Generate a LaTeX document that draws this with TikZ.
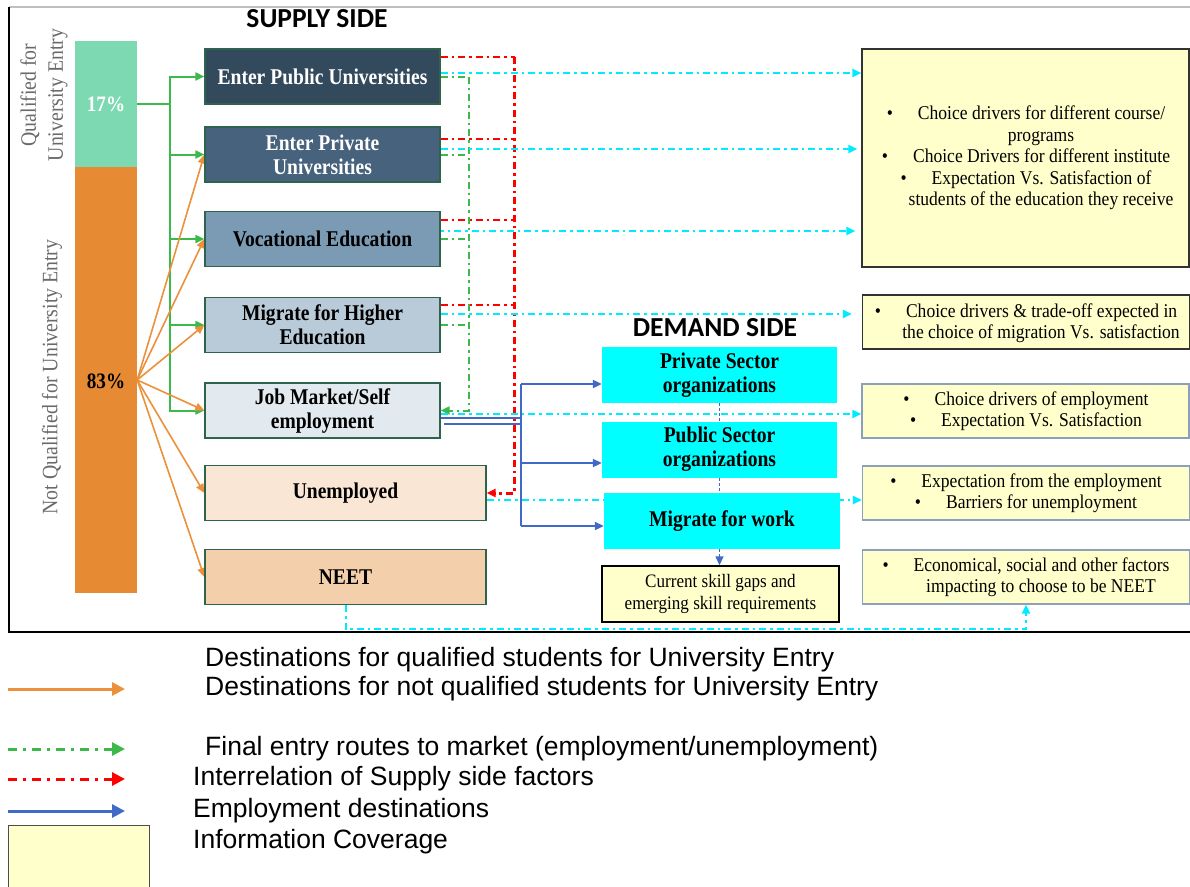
\documentclass[tikz,border=0pt]{standalone}
\usepackage{fontspec}
\setmainfont{Liberation Serif}
\newfontfamily\boxfont[FakeStretch=0.87]{Liberation Serif}
\newfontfamily\infofont[FakeStretch=0.9]{Liberation Serif}
\newfontfamily\legfont{Liberation Sans}
\newfontfamily\headfont{Carlito}
\usetikzlibrary{arrows.meta,calc}
\pgfdeclarelayer{bg}
\pgfsetlayers{bg,main}
\definecolor{mint}{RGB}{125,217,177}
\definecolor{obar}{RGB}{230,138,51}
\definecolor{fA}{RGB}{51,73,92}
\definecolor{fB}{RGB}{70,98,124}
\definecolor{fC}{RGB}{123,155,180}
\definecolor{fD}{RGB}{185,203,216}
\definecolor{fE}{RGB}{226,234,239}
\definecolor{fF}{RGB}{249,230,213}
\definecolor{fG}{RGB}{244,207,171}
\definecolor{bborder}{RGB}{45,100,75}
\definecolor{gline}{RGB}{60,185,75}
\definecolor{oline}{RGB}{235,145,60}
\definecolor{rline}{RGB}{255,0,0}
\definecolor{cline}{RGB}{0,235,255}
\definecolor{bline}{RGB}{65,105,200}
\definecolor{dcyan}{RGB}{0,255,255}
\definecolor{iyellow}{RGB}{255,255,204}
\definecolor{iborder}{RGB}{140,160,185}
\definecolor{rotgray}{RGB}{105,105,105}
\newcommand\bxf{\boxfont\bfseries\fontsize{22.5}{24}\selectfont}
\newcommand\infotxt{\infofont\fontsize{19.5}{21.5}\selectfont}
\newcommand\bul{\textbullet\hspace{25pt}}
\newcommand\cont{\hspace{30pt}}
\tikzset{
  sbox/.style={draw=bborder, line width=1.3pt, minimum width=235pt, minimum height=55pt, inner sep=0pt, align=center, font=\bxf},
  dbox/.style={fill=dcyan, minimum width=235pt, minimum height=56pt, inner sep=0pt, align=center, font=\bxf},
  ibox/.style={draw=iborder, fill=iyellow, line width=1.3pt, minimum width=327pt, minimum height=54pt, inner sep=0pt},
  itext/.style={align=center, font=\infotxt, inner sep=0pt},
  tip/.style={-{Triangle[length=9pt,width=8pt]}},
  gconn/.style={gline, line width=2pt},
  oconn/.style={oline, line width=1.6pt, tip},
  dashdot/.style={dash pattern=on 7pt off 4pt on 2.5pt off 4pt},
  rconn/.style={rline, line width=2pt, dashdot},
  gdash/.style={gline, line width=2pt, dashdot},
  cconn/.style={cline, line width=2pt, dashdot},
  bconn/.style={bline, line width=2pt},
  bdot/.style={bline, line width=1.6pt, dash pattern=on 3pt off 2pt},
  legtext/.style={anchor=west, inner sep=0pt, font=\legfont\fontsize{26.5}{28}\selectfont},
  legarrow/.style={line width=3pt, -{Triangle[length=13pt,width=13pt]}},
}
\begin{document}
\begin{tikzpicture}[x=1pt,y=-1pt]
\useasboundingbox (0,0) rectangle (1190,886);
% frame
\draw[gray!50, line width=1.2pt] (9,7) -- (1190,7);
\draw[black, line width=1.6pt] (9,7) -- (9,632) -- (1190,632);

% headings
\node[font=\headfont\bfseries\fontsize{27.5}{29}\selectfont] (supply) at (317,19) {SUPPLY SIDE};
\node[font=\headfont\bfseries\fontsize{27.5}{29}\selectfont] (demand) at (715,328) {DEMAND SIDE};

% rotated labels
\node[rotate=90, align=center, text=rotgray, font=\infofont\fontsize{22}{27}\selectfont] (qlab) at (44,95) {Qualified for\\University Entry};
\node[rotate=90, text=rotgray, font=\infofont\fontsize{22}{27}\selectfont] (nqlab) at (52,377) {Not Qualified for University Entry};

% bars
\node[fill=mint, minimum width=62pt, minimum height=126pt, inner sep=0pt, text=white, font=\boxfont\bfseries\fontsize{22}{24}\selectfont] (gbar) at (106,104) {17\%};
\node[fill=obar, minimum width=62pt, minimum height=426pt, inner sep=0pt] (obarn) at (106,380) {};
\node[font=\boxfont\bfseries\fontsize{22}{24}\selectfont, inner sep=0pt] (pct83) at (106,381) {83\%};

% supply boxes
\node[sbox, fill=fA, text=white] (b1) at (322.5,76.5) {Enter Public Universities};
\node[sbox, fill=fB, text=white] (b2) at (322.5,154.5) {Enter Private\\Universities};
\node[sbox, fill=fC] (b3) at (322.5,239) {Vocational Education};
\node[sbox, fill=fD] (b4) at (322.5,325) {Migrate for Higher\\Education};
\node[sbox, fill=fE] (b5) at (322.5,410.5) {Job Market/Self\\employment};
\node[sbox, fill=fF, minimum width=281pt] (b6) at (345.5,493) {Unemployed};
\node[sbox, fill=fG, minimum width=281pt] (b7) at (345.5,577) {NEET};

% demand boxes
\node[dbox] (d1) at (719.5,375) {Private Sector\\organizations};
\node[dbox] (d2) at (719.5,449.5) {Public Sector\\organizations};
\node[dbox, minimum width=236pt] (d3) at (722,521) {Migrate for work};
\node[draw=black, line width=1.5pt, fill=iyellow, minimum width=237pt, minimum height=56pt, inner sep=0pt, align=center, font=\infofont\fontsize{19}{22}\selectfont] (d4) at (720.5,594) {Current skill gaps and\\emerging skill requirements};

% info boxes
\node[ibox, draw=black!80, minimum height=218pt] (i1) at (1025.5,158) {};
\node[itext] (i1t) at (1026,158) {\bul Choice drivers for different course/\\\cont programs\\\bul Choice Drivers for different institute\\\bul Expectation Vs. Satisfaction of\\\cont students of the education they receive};
\node[ibox, draw=black!80] (i2) at (1026,322) {};
\node[itext] (i2t) at (1026,323) {\bul Choice drivers \& trade-off expected in\\\cont the choice of migration Vs. satisfaction};
\node[ibox] (i3) at (1025.5,411) {};
\node[itext] (i3t) at (1026,411) {\bul Choice drivers of employment\\\bul Expectation Vs. Satisfaction};
\node[ibox] (i4) at (1026,493) {};
\node[itext] (i4t) at (1026,493) {\bul Expectation from the employment\\\bul Barriers for unemployment};
\node[ibox] (i5) at (1026,577) {};
\node[itext] (i5t) at (1026,577) {\bul Economical, social and other factors\\\cont impacting to choose to be NEET};

\begin{pgfonlayer}{bg}
% green from 17%
\coordinate (gj) at (170,104);
\draw[gconn] (gbar.east) -- (gj);
\foreach \b in {b1,b2,b3,b4,b5} \draw[gconn, tip] (gj) |- (\b.west);
% orange from 83%
\foreach \b in {b2,b3,b4,b5,b6,b7} \draw[oconn] (obarn.east) -- (\b.west);
% red interrelation
\draw[rconn] ($(b1.north east)+(0,9)$) -- ++(74,0) coordinate (r1);
\draw[rconn, line width=3pt, tip] (r1) |- (b6.east);
\draw[rconn] ($(b2.north east)+(0,13)$) -- ++(74,0);
\draw[rconn] ($(b3.north east)+(0,9)$) -- ++(74,0);
\draw[rconn] ($(b4.north east)+(0,8)$) -- ++(74,0);
% green final entry
\draw[gdash] (b1.east) -- ++(28,0) coordinate (g1);
\draw[gdash, tip] (g1) |- (b5.east);
\draw[gdash] (b2.east) -- ++(28,0);
\draw[gdash] (b3.east) -- ++(28,0);
\draw[gdash] (b4.east) -- ++(28,0);
% cyan info links
\coordinate (c1) at ($(b1.east)+(0,-3.5)$);
\coordinate (c2) at ($(b2.east)+(0,-5.5)$);
\coordinate (c3) at ($(b3.east)+(-4,-8)$);
\coordinate (c4) at ($(b4.east)+(0,-11)$);
\coordinate (c5) at ($(b5.east)+(0,3.5)$);
\coordinate (c6) at ($(b6.east)+(0,7)$);
\draw[cconn, tip] (c1) -- (c1 -| i1.west);
\draw[cconn, tip] (c2) -- ($(c2 -| i1.west)+(-4,0)$);
\draw[cconn, tip] (c3) -- ($(c3 -| i1.west)+(-6,0)$);
\draw[cconn, tip] (c4) -- ($(c4 -| i2.west)+(-10,0)$);
\draw[cconn, tip] (c5) -- (c5 -| i3.west);
\draw[cconn, tip] (c6) -- (c6 -| i4.west);
\draw[cconn, tip] (b7.south) -- ++(0,24) -| (i5.south);
% blue employment destinations
\draw[bconn] ($(b5.east)+(0,7)$) -- ++(81,0);
\draw[bconn, line width=1.6pt] ($(b5.east)+(3,13.5)$) -- ++(78,0);
\coordinate (bt1) at (521,384);
\coordinate (bt2) at (521,463);
\coordinate (bt3) at (521,526);
\draw[bconn] (bt1) -- (bt3);
\draw[bconn, tip] (bt1) -- (bt1 -| d1.west);
\draw[bconn, tip] (bt2) -- (bt2 -| d2.west);
\draw[bconn, tip] (bt3) -- (bt3 -| d3.west);
% demand chain
\draw[bdot] (d1.south) -- (d2.north);
\draw[bdot] (d2.south) -- (d2.south |- d3.north);
\draw[bdot, tip] (d2.south |- d3.south) -- (d2.south |- d4.north);
\end{pgfonlayer}

% legend
\coordinate (la1) at (8,689);  \coordinate (lb1) at (125,689);
\coordinate (la2) at (8,749);  \coordinate (lb2) at (125,749);
\coordinate (la3) at (8,779);  \coordinate (lb3) at (125,779);
\coordinate (la4) at (8,811);  \coordinate (lb4) at (125,811);
\draw[legarrow, oline] (la1) -- (lb1);
\draw[legarrow, gline, dash pattern=on 9pt off 6pt on 3pt off 6pt] (la2) -- (lb2);
\draw[legarrow, rline, dash pattern=on 9pt off 6pt on 3pt off 6pt] (la3) -- (lb3);
\draw[legarrow, bline] (la4) -- (lb4);
\node[draw=black!70, fill=iyellow, line width=1pt, minimum width=141pt, minimum height=70pt, inner sep=0pt] (lbox) at (78.5,860) {};
\node[legtext] (l1) at (205,660) {Destinations for qualified students for University Entry};
\node[legtext] (l2) at (205,689) {Destinations for not qualified students for University Entry};
\node[legtext] (l3) at (205,749) {Final entry routes to market (employment/unemployment)};
\node[legtext] (l4) at (193,779) {Interrelation of Supply side factors};
\node[legtext] (l5) at (193,811) {Employment destinations};
\node[legtext] (l6) at (193,842) {Information Coverage};
\end{tikzpicture}
\end{document}
